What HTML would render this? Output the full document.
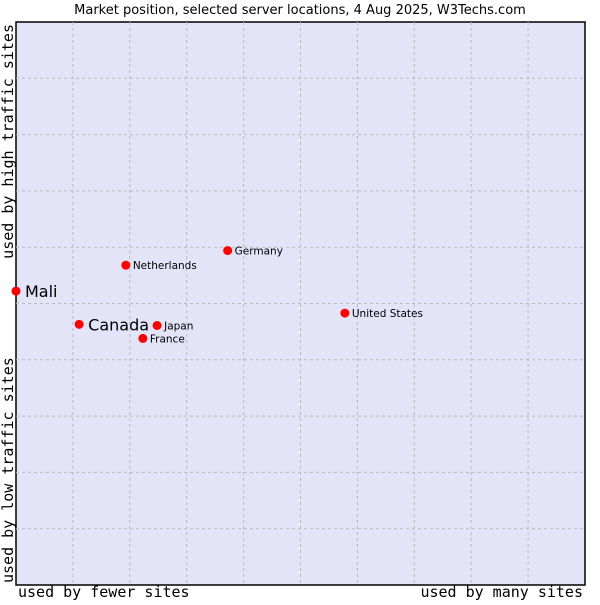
<!DOCTYPE html>
<html><head><meta charset="utf-8"><style>
body{margin:0;background:#fff;width:600px;height:600px;overflow:hidden}
svg text{font-family:"DejaVu Sans","Liberation Sans",sans-serif}
.mono{font-family:"DejaVu Sans Mono","Liberation Mono",monospace}
</style></head><body>
<svg id="chart" width="600" height="600" xmlns="http://www.w3.org/2000/svg">
<rect x="16" y="22" width="569" height="563" fill="#e3e4f8" stroke="#000" stroke-width="1.5"/>
<g id="grid"></g>
<g id="points"></g>
<text x="300" y="14" text-anchor="middle" font-size="13" fill="#000">Market position, selected server locations, 4 Aug 2025, W3Techs.com</text>
<text class="mono" x="18" y="597" font-size="15">used by fewer sites</text>
<text class="mono" x="583" y="597" font-size="15" text-anchor="end">used by many sites</text>
<text class="mono" transform="translate(13,583) rotate(-90)" font-size="15">used by low traffic sites</text>
<text class="mono" transform="translate(13,24) rotate(-90)" font-size="15" text-anchor="end">used by high traffic sites</text>
</svg>
<script>
const names=["Mali","Canada","Netherlands","Japan","France","Germany","United States"];
const xVals=[0,11.1,19.3,24.8,22.3,37.2,57.8];
const yVals=[52.2,46.3,56.8,46.1,43.8,59.4,48.3];
const bigLabels=["Mali","Canada"];
const NS="http://www.w3.org/2000/svg";
const L=16,T=22,W=569,H=563;
const sx=v=>L+v/100*W, sy=v=>T+H-v/100*H;
const grid=document.getElementById('grid');
for(let i=1;i<10;i++){
 const gx=document.createElementNS(NS,'line');
 gx.setAttribute('x1',sx(i*10));gx.setAttribute('x2',sx(i*10));gx.setAttribute('y1',T);gx.setAttribute('y2',T+H);
 gx.setAttribute('stroke','#bbb');gx.setAttribute('stroke-dasharray','3,3');
 
 
 grid.appendChild(gx);
 const gy=document.createElementNS(NS,'line');
 gy.setAttribute('y1',sy(i*10));gy.setAttribute('y2',sy(i*10));gy.setAttribute('x1',L);gy.setAttribute('x2',L+W);
 gy.setAttribute('stroke','#bbb');gy.setAttribute('stroke-dasharray','3,3');
 
 
 grid.appendChild(gy);
}
const pts=document.getElementById('points');
names.forEach((n,i)=>{
 const x=sx(xVals[i]),y=sy(yVals[i]);
 const big=bigLabels.includes(n);
 const d=document.createElementNS(NS,'circle');
 d.setAttribute('cx',x);d.setAttribute('cy',y);d.setAttribute('r',4.5);
 d.setAttribute('fill','#f00');
 
 
 pts.appendChild(d);
 const t=document.createElementNS(NS,'text');
 t.setAttribute('x',x+(big?9:7));t.setAttribute('y',y+(big?6:4));
 t.setAttribute('font-size',big?16:10.5);t.textContent=n;
 
 
 pts.appendChild(t);
});
</script>
</body></html>
